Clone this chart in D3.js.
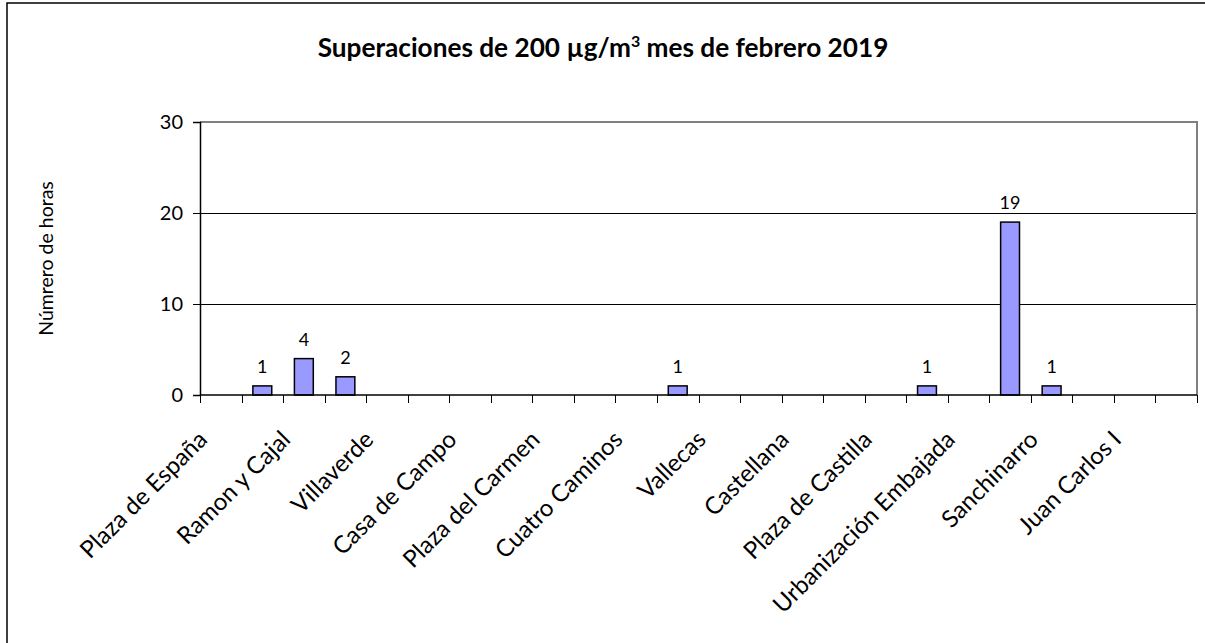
<!DOCTYPE html>
<html>
<head>
<meta charset="utf-8">
<script src="https://cdn.jsdelivr.net/npm/d3@7"></script>
<style>
  html, body { margin: 0; padding: 0; background: #fff; }
  svg { display: block; }
  text { font-family: Lato, "Open Sans", sans-serif; fill: #000; }
</style>
</head>
<body>
<svg id="chart" width="1205" height="643"></svg>
<script>
// ---- data ----
const categories = [
  "Plaza de España", "Escuelas Aguirre", "Ramon y Cajal", "Arturo Soria",
  "Villaverde", "Farolillo", "Casa de Campo", "Barajas Pueblo",
  "Plaza del Carmen", "Moratalaz", "Cuatro Caminos", "Barrio del Pilar",
  "Vallecas", "Méndez Álvaro", "Castellana", "Retiro",
  "Plaza de Castilla", "Ensanche de Vallecas", "Urbanización Embajada", "Plaza Elíptica",
  "Sanchinarro", "El Pardo", "Juan Carlos I", "Tres Olivos"
];
const hours = [0, 1, 4, 2, 0, 0, 0, 0, 0, 0, 0, 1, 0, 0, 0, 0, 0, 1, 0, 19, 1, 0, 0, 0];
const yTicks = [0, 10, 20, 30];
const titleMain = "Superaciones de 200 µg/m";
const titleSup = "3";
const titleEnd = " mes de febrero 2019";
const yTitle = "Númrero de horas";

// ---- layout ----
const svg = d3.select("#chart");
const pLeft = 200, pRight = 1197, pTop = 122, pBottom = 395;

const x = d3.scaleBand().domain(d3.range(categories.length)).range([pLeft, pRight]).padding(0);
const y = d3.scaleLinear().domain([0, 30]).range([pBottom, pTop]);
const barW = x.bandwidth() / 2.2;

// outer border
svg.append("rect").attr("x", 7).attr("y", 3).attr("width", 1210).attr("height", 660)
  .attr("fill", "none").attr("stroke", "#000").attr("stroke-width", 1.5);

// title
const title = svg.append("text").attr("x", 603).attr("y", 57).attr("text-anchor", "middle")
  .style("font-size", "26.2px").style("font-weight", "bold");
title.append("tspan").text(titleMain);
title.append("tspan").attr("dy", -10).style("font-size", "16px").text(titleSup);
title.append("tspan").attr("dy", 10).text(titleEnd);

// gridlines
svg.append("g").selectAll("line").data(yTicks.filter(v => v > 0 && v < 30)).join("line")
  .attr("x1", pLeft).attr("x2", pRight).attr("y1", d => y(d) + 0.5).attr("y2", d => y(d) + 0.5)
  .attr("stroke", "#000").attr("stroke-width", 1);

// plot area border (top and right)
svg.append("path")
  .attr("d", `M${pLeft},${y(30)}H${pRight}V${pBottom}`)
  .attr("fill", "none").attr("stroke", "#808080").attr("stroke-width", 2);

// y axis
const yAxis = svg.append("g").attr("transform", `translate(${pLeft},0)`)
  .call(d3.axisLeft(y).tickValues(yTicks).tickSize(7).tickPadding(10));
yAxis.select(".domain").attr("stroke", "#000").attr("stroke-width", 1.5);
yAxis.selectAll(".tick line").attr("stroke", "#000");
yAxis.selectAll(".tick text").style("font-size", "20px").style("font-family", "Lato, sans-serif");

// y title
svg.append("text").attr("transform", `translate(53,${(pTop + pBottom) / 2}) rotate(-90)`)
  .attr("text-anchor", "middle").style("font-size", "19.5px").text(yTitle);

// bars
svg.append("g").selectAll("rect").data(hours.map((v, i) => ({ v, i })).filter(d => d.v > 0)).join("rect")
  .attr("x", d => x(d.i) + (x.bandwidth() - barW) / 2)
  .attr("y", d => y(d.v))
  .attr("width", barW)
  .attr("height", d => y(0) - y(d.v))
  .attr("fill", "#9999FF").attr("stroke", "#000").attr("stroke-width", 1.5);

// data labels
svg.append("g").selectAll("text").data(hours.map((v, i) => ({ v, i })).filter(d => d.v > 0)).join("text")
  .attr("x", d => x(d.i) + x.bandwidth() / 2)
  .attr("y", d => y(d.v) - 13)
  .attr("text-anchor", "middle").style("font-size", "18px")
  .text(d => d.v);

// x axis line and ticks at category boundaries
svg.append("line").attr("x1", pLeft).attr("x2", pRight).attr("y1", pBottom).attr("y2", pBottom)
  .attr("stroke", "#000").attr("stroke-width", 1.5);
const bounds = d3.range(categories.length + 1).map(i => i < categories.length ? x(i) : pRight);
svg.append("g").selectAll("line").data(bounds).join("line")
  .attr("x1", d => Math.round(d) + 0.5).attr("x2", d => Math.round(d) + 0.5)
  .attr("y1", pBottom).attr("y2", pBottom + 8)
  .attr("stroke", "#000").attr("stroke-width", 1);

// category labels (every other one shown)
svg.append("g").selectAll("text").data(categories.map((c, i) => ({ c, i })).filter(d => d.i % 2 === 0)).join("text")
  .attr("transform", d => `translate(${x(d.i) + x.bandwidth() / 2 - 12},${pBottom + 46}) rotate(-45)`)
  .attr("text-anchor", "end").style("font-size", "24px")
  .text(d => d.c);
</script>
</body>
</html>
